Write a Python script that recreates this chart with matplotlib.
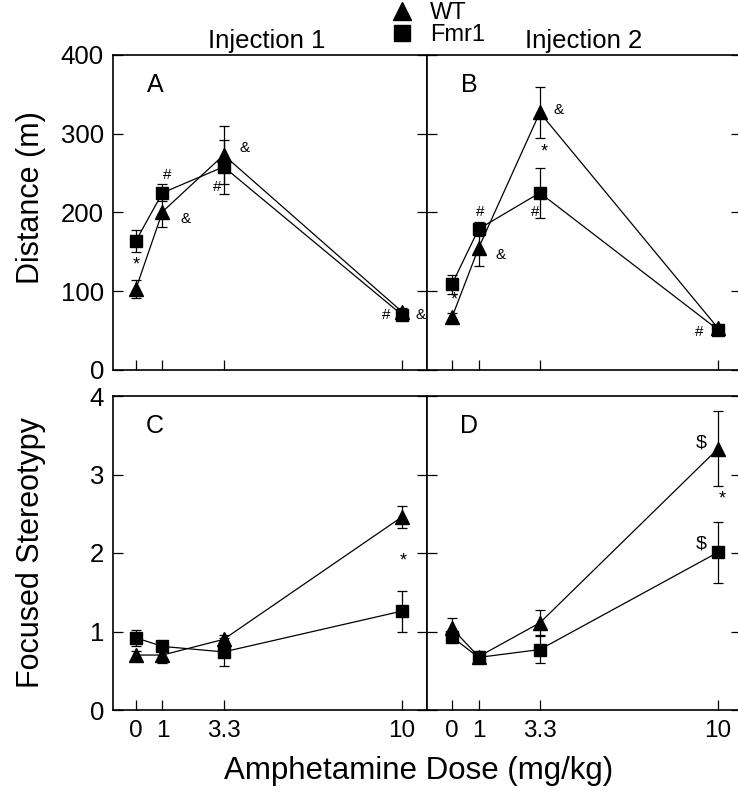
import matplotlib
matplotlib.use('Agg')
import matplotlib.pyplot as plt
from matplotlib.lines import Line2D

plt.rcParams['font.family'] = ['Liberation Sans', 'DejaVu Sans']

doses = [0, 1, 3.3, 10]
xtick_labels = ['0', '1', '3.3', '10']

dist_inj1_wt = [103, 201, 273, 74]
dist_inj1_wt_err = [11, 20, 37, 5]
dist_inj1_fmr1 = [164, 225, 258, 70]
dist_inj1_fmr1_err = [14, 11, 34, 5]

dist_inj2_wt = [67, 155, 327, 53]
dist_inj2_wt_err = [5, 23, 33, 4]
dist_inj2_fmr1 = [109, 179, 225, 51]
dist_inj2_fmr1_err = [12, 9, 32, 4]

ster_inj1_wt = [0.70, 0.70, 0.90, 2.46]
ster_inj1_wt_err = [0.05, 0.10, 0.06, 0.14]
ster_inj1_fmr1 = [0.92, 0.81, 0.74, 1.26]
ster_inj1_fmr1_err = [0.10, 0.05, 0.18, 0.26]

ster_inj2_wt = [1.04, 0.68, 1.11, 3.33]
ster_inj2_wt_err = [0.13, 0.04, 0.16, 0.48]
ster_inj2_fmr1 = [0.93, 0.67, 0.77, 2.01]
ster_inj2_fmr1_err = [0.06, 0.04, 0.17, 0.39]

# significance marks (x, y, symbol)
marks_a = [(0, 133, '*'), (1.17, 248, '#'), (1.88, 192, '&'), (4.1, 282, '&'),
           (3.05, 232, '#'), (9.4, 70, '#'), (10.68, 70, '&')]
marks_b = [(0.08, 89, '*'), (1.06, 200, '#'), (1.81, 146, '&'), (4.0, 330, '&'),
           (3.47, 277, '*'), (3.13, 200, '#'), (9.28, 48, '#')]
marks_c = [(10.05, 1.90, '*')]
marks_d = [(9.36, 3.40, '$'), (10.15, 2.69, '*'), (9.36, 2.12, '$')]

W, H = 738, 792
fig = plt.figure(figsize=(W / 100, H / 100), dpi=100)


def box(x0, x1, y0, y1):
    return [x0 / W, 1 - y1 / H, (x1 - x0) / W, (y1 - y0) / H]


ax_a = fig.add_axes(box(113, 427, 55, 370))
ax_b = fig.add_axes(box(427, 741, 55, 370))
ax_c = fig.add_axes(box(113, 427, 396, 710))
ax_d = fig.add_axes(box(427, 741, 396, 710))

panels = [
    (ax_a, dist_inj1_wt, dist_inj1_wt_err, dist_inj1_fmr1, dist_inj1_fmr1_err, marks_a, 'A'),
    (ax_b, dist_inj2_wt, dist_inj2_wt_err, dist_inj2_fmr1, dist_inj2_fmr1_err, marks_b, 'B'),
    (ax_c, ster_inj1_wt, ster_inj1_wt_err, ster_inj1_fmr1, ster_inj1_fmr1_err, marks_c, 'C'),
    (ax_d, ster_inj2_wt, ster_inj2_wt_err, ster_inj2_fmr1, ster_inj2_fmr1_err, marks_d, 'D'),
]

for ax, wt, wte, fm, fme, marks, letter in panels:
    ax.errorbar(doses, wt, yerr=wte, color='black', lw=0.9, marker='^', ms=9.5,
                capsize=3.5, elinewidth=0.9, capthick=0.9, zorder=3)
    ax.errorbar(doses, fm, yerr=fme, color='black', lw=0.9, marker='s', ms=9,
                capsize=3.5, elinewidth=0.9, capthick=0.9, zorder=4)
    for x, y, s in marks:
        size = {'$': 14, '*': 13}.get(s, 11)
        ax.text(x, y, s, fontsize=size, ha='center', va='center',
                clip_on=False, zorder=5)
    ax.text(0.134, 0.905, letter, transform=ax.transAxes, fontsize=18,
            ha='center', va='center')
    ax.set_xticks(doses)
    ax.tick_params(axis='both', direction='in', length=7, width=0.9,
                   left=True, right=True, bottom=True, top=False)
    for sp in ax.spines.values():
        sp.set_linewidth(1.2)

for ax in (ax_a, ax_c):
    ax.set_xlim(-0.86, 10.94)
for ax in (ax_b, ax_d):
    ax.set_xlim(-0.94, 10.86)
    ax.tick_params(labelleft=False)

for ax in (ax_a, ax_b):
    ax.set_ylim(0, 400)
    ax.set_yticks([0, 100, 200, 300, 400])
    ax.tick_params(labelbottom=False)
for ax in (ax_c, ax_d):
    ax.set_ylim(0, 4)
    ax.set_yticks([0, 1, 2, 3, 4])
    ax.set_xticklabels(xtick_labels, fontsize=17.5)
    ax.tick_params(axis='x', pad=7)

for ax in (ax_a, ax_c):
    ax.tick_params(axis='y', labelsize=18.5, pad=6.5)

ax_a.text(0.49, 1.022, 'Injection 1', transform=ax_a.transAxes, fontsize=18.5,
          ha='center', va='baseline')
ax_b.text(0.5, 1.022, 'Injection 2', transform=ax_b.transAxes, fontsize=18.5,
          ha='center', va='baseline')

fig.text(31 / W, 1 - 198 / H, 'Distance (m)', rotation=90,
         fontsize=22, ha='center', va='center')
fig.text(31 / W, 1 - 553 / H, 'Focused Stereotypy', rotation=90,
         fontsize=22, ha='center', va='center')
fig.text(419 / W, 1 - 771 / H, 'Amphetamine Dose (mg/kg)',
         fontsize=22.5, ha='center', va='center')

handles = [Line2D([], [], color='black', marker='^', ls='none', ms=13),
           Line2D([], [], color='black', marker='s', ls='none', ms=11.5)]
fig.legend(handles, ['WT', 'Fmr1'], loc='upper left', bbox_to_anchor=(390 / W, 1 - 2 / H),
           frameon=False, fontsize=17, handlelength=1.05, handletextpad=0.65,
           labelspacing=0.0, borderpad=0.0, borderaxespad=0.0)

fig.savefig('out.png', dpi=100)
